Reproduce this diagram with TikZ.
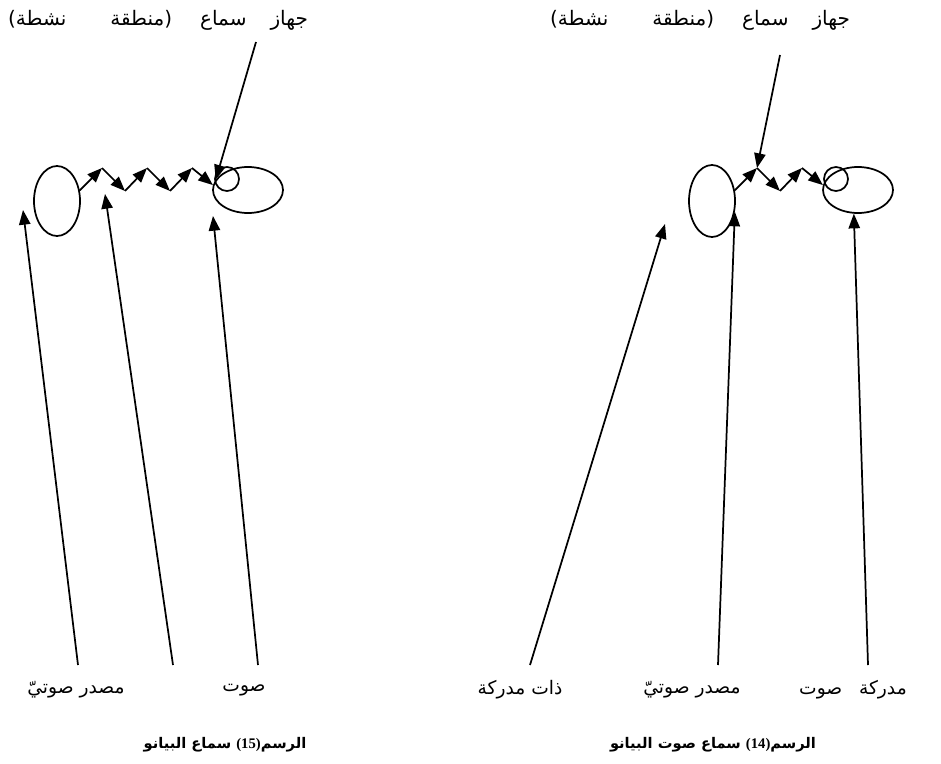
\documentclass[tikz,border=0pt]{standalone}
\usepackage{fontspec}
\setmainfont{Liberation Serif}
\newfontfamily\arabicfont[Script=Arabic]{DejaVu Sans}
\TeXXeTstate=1
\usetikzlibrary{shapes.geometric,arrows.meta}
\begin{document}
\begin{tikzpicture}
[x=0.75pt, y=-0.75pt, line width=1.3pt,
 arr/.style={-{Triangle[length=11pt,width=8.5pt]}},
 organ/.style={draw, ellipse, inner sep=0pt},
 ear/.style={draw, circle, inner sep=0pt, minimum size=18pt},
 toplbl/.style={font=\arabicfont\fontsize{15}{17}\selectfont, inner sep=0pt},
 lbl/.style={font=\arabicfont\fontsize{14}{16}\selectfont, inner sep=0pt},
 figcap/.style={font=\arabicfont\bfseries\fontsize{11}{13}\selectfont, inner sep=0pt}]
\useasboundingbox (0,0) rectangle (941,763);
\node [organ, minimum width=34.5pt, minimum height=52.5pt] (srcL) at (57,201) {};
\node [organ, minimum width=52.5pt, minimum height=34.5pt] (headL) at (248,190) {};
\node [ear] (earL) at (227,179) {};
\coordinate (zl1) at (102,168);
\coordinate (zl2) at (125,191);
\coordinate (zl3) at (147,168);
\coordinate (zl4) at (170,191);
\coordinate (zl5) at (192,168);
\draw [arr] (srcL.25) -- (zl1);
\draw [arr] (zl1) -- (zl2);
\draw [arr] (zl2) -- (zl3);
\draw [arr] (zl3) -- (zl4);
\draw [arr] (zl4) -- (zl5);
\draw [arr] (zl5) -- (headL.172);
\node [toplbl] (topL) at (158,20) {\beginR جهاز\hspace{1.2em}سماع\hspace{1.4em}(منطقة\hspace{2.2em}نشطة)\endR};
\coordinate (tl) at (256,42);
\draw [arr] (tl) -- (headL.162);
\coordinate (al) at (78,665);
\coordinate (bl) at (173,665);
\coordinate (cl) at (258,665);
\coordinate (hl) at (23,210);
\coordinate (il) at (105,194);
\coordinate (jl) at (213,216);
\draw [arr] (al) -- (hl);
\draw [arr] (bl) -- (il);
\draw [arr] (cl) -- (jl);
\node [lbl] (srcLtxt) at (76,690) {\beginR مصدر صوتيّ\endR};
\node [lbl] (sndLtxt) at (244,690) {\beginR صوت\endR};
\node [figcap] (capL) at (225,745) {\beginR الرسم\beginL{\rmfamily(15)}\endL{} سماع البيانو\endR};
\node [organ, minimum width=34.5pt, minimum height=54pt] (srcR) at (712,201) {};
\node [organ, minimum width=52.5pt, minimum height=34.5pt] (headR) at (858,190) {};
\node [ear] (earR) at (836,179) {};
\coordinate (zr1) at (757,168);
\coordinate (zr2) at (780,191);
\coordinate (zr3) at (802,168);
\draw [arr] (srcR.25) -- (zr1);
\draw [arr] (zr1) -- (zr2);
\draw [arr] (zr2) -- (zr3);
\draw [arr] (zr3) -- (headR.172);
\node [toplbl] (topR) at (700,20) {\beginR جهاز\hspace{1.2em}سماع\hspace{1.4em}(منطقة\hspace{2.2em}نشطة)\endR};
\coordinate (tr) at (780,55);
\draw [arr] (tr) -- (zr1);
\coordinate (ar) at (530,665);
\coordinate (br) at (718,665);
\coordinate (cr) at (868,665);
\coordinate (hr) at (665,224);
\draw [arr] (ar) -- (hr);
\draw [arr] (br) -- (srcR.-25);
\draw [arr] (cr) -- (headR.-100);
\node [lbl] (subRtxt) at (520,690) {\beginR ذات مدركة\endR};
\node [lbl] (srcRtxt) at (692,690) {\beginR مصدر صوتيّ\endR};
\node [lbl] (sndRtxt) at (853,690) {\beginR مدركة\hspace{0.9em}صوت\endR};
\node [figcap] (capR) at (713,745) {\beginR الرسم\beginL{\rmfamily(14)}\endL{} سماع صوت البيانو\endR};
\end{tikzpicture}
\end{document}
